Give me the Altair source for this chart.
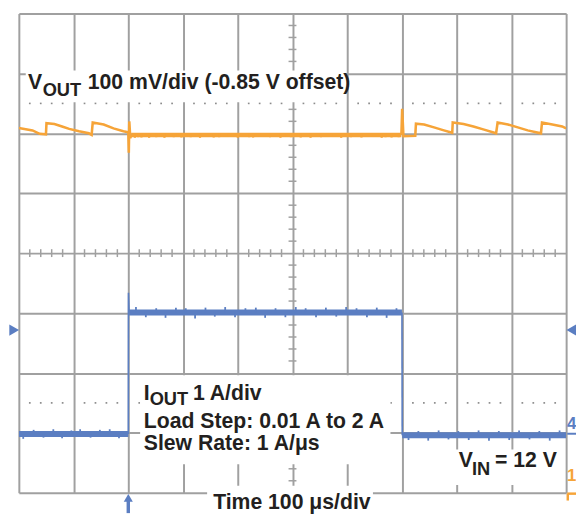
import altair as alt
import pandas as pd

# ---------------- values ----------------
# time axis: 100 us/div, 10 divisions (trigger at 200 us)
# VOUT: deviation in mV (100 mV/div); IOUT in A (1 A/div)
vout_t = [0, 25, 38, 49.5, 50.5, 65, 79, 92, 110, 128, 133, 135, 155, 173, 191, 200,
          200.9, 201.8, 203.6, 205.4]
vout_mv = [8.7, 4.9, -0.8, -1.6, 17, 15.6, 11.5, 7.4, 3.3, 0, -2.5, 18.1, 14.8, 8.2, 3.3, 1.6,
           -32.4, 19.8, -8, -2.5]
vout_flat_t = [205.4, 699]
vout_flat_mv = [-2.8, -2.8]
vout_rel_t = [699, 700.4, 702.7, 724.3, 725.6, 740.5, 758.6, 776.6, 791.9, 792.8, 812.6, 830.6,
              848.6, 872, 874.8, 893.7, 911.7, 929.7, 954, 955.9, 974.8, 992.8, 1000]
vout_rel_mv = [-2.5, 41, -4.9, -4, 16, 14.8, 9.9, 4.9, 0.8, 18.1, 15.6, 11.5,
               6.6, 0, 18.1, 14.8, 9.9, 4.9, 0, 18.1, 14.8, 11.5, 8.2]
# noise glitches on the flat VOUT section (time, extreme mV)
vout_glitch_t = [212, 218, 224, 231, 238, 251, 259, 266, 283, 290, 297, 314, 331, 349, 356, 366,
                 384, 400, 421, 428, 440, 459, 478, 486, 497, 515, 533, 552, 571, 589, 607,
                 626, 645, 663, 670, 681, 694]
vout_glitch_mv = [-7.5, -6.5, -7, -6, -7.5, -6.5, -5.5, -7.5, -6.5, -6, -7, -6.5, -7.5, -5.5, -7,
                  -6.5, -6, -7.5, -6.5, -7, -5.5, -6.5, -7.5, -6, -6.5, -7, -7.5, -6.5, -6, -7.5,
                  -6.5, -7, -6, -7.5, -6.5, -7, -6.5]

iout_low_t = [0, 200]
iout_low_a = [0.01, 0.01]
iout_edge1_t = [200, 200.3, 201.5]
iout_edge1_a = [0.01, 2.37, 2.04]
iout_high_t = [201.5, 700]
iout_high_a = [2.04, 2.04]
iout_edge2_t = [700, 700.5]
iout_edge2_a = [2.04, -0.01]
iout_end_t = [700.5, 1000]
iout_end_a = [-0.01, -0.01]
iout_glitch_t = [8, 27, 45, 63, 79, 96, 112, 131, 148, 166, 183,
                 214, 232, 251, 268, 287, 305, 322, 341, 358, 377, 395, 414, 433, 450, 469,
                 487, 506, 524, 543, 561, 580, 598, 617, 636, 654, 672, 690,
                 712, 730, 748, 767, 785, 803, 822, 840, 859, 877, 896, 914, 933, 951, 970, 988]
iout_glitch_a = [-0.08, 0.07, -0.06, 0.08, -0.07, 0.06, 0.08, -0.06, 0.07, 0.08, -0.07,
                 0.09, -0.08, 0.07, -0.09, 0.08, 0.07, -0.1, 0.08, -0.07, 0.09, -0.08, 0.07,
                 0.08, -0.09, 0.07, -0.08, 0.09, 0.07, -0.08, 0.08, -0.07, 0.09, 0.07, -0.08,
                 0.08, -0.09, 0.07,
                 -0.08, 0.07, -0.09, 0.08, -0.07, 0.07, -0.08, 0.08, -0.09, 0.07, -0.08,
                 0.08, -0.07, 0.07, -0.09, 0.08]

# screen-division offsets of the two channels
VOUT_ZERO_DIV = 6.0
IOUT_ZERO_DIV = 0.97

ORANGE = "#f6a438"
BLUE = "#5b7ec2"
GRID = "#a0a0a0"
INK = "#231f20"
FONT = "Liberation Sans"

# ---------------- tables ----------------
vglitch_df = pd.DataFrame({"t": vout_glitch_t, "mv": vout_glitch_mv})
iglitch_df = pd.DataFrame({"t": iout_glitch_t, "d": iout_glitch_a})
iglitch_df["base"] = [0.01 if t < 200 else (2.04 if t < 700 else -0.01) for t in iout_glitch_t]

major_t = list(range(0, 1001, 100))
major_y = list(range(0, 9))
minor_t = [t for t in range(20, 1000, 20) if t % 100 != 0]
minor_y = [round(v * 0.2, 2) for v in range(1, 40) if v % 5 != 0]
dots = pd.DataFrame([{"t": t, "y": yy} for yy in (1.5, 6.5) for t in minor_t])
hticks = pd.DataFrame({"t": minor_t, "y": [4.0] * len(minor_t)})
vticks = pd.DataFrame({"t": [500.0] * len(minor_y), "y": minor_y})

boxes = pd.DataFrame({
    "t": [12.6, 221.6, 780, 344],
    "t2": [598, 679, 996, 647],
    "y": [7.05, 1.96, 0.72, 0.115],
    "y2": [6.52, 0.477, 0.13, -0.35],
})

texts = pd.DataFrame([
    {"t": 16.8, "y": 6.74, "s": "V", "fs": 21.5, "c": INK},
    {"t": 43.5, "y": 6.63, "s": "OUT", "fs": 18.5, "c": INK},
    {"t": 126, "y": 6.74, "s": "100 mV/div (-0.85 V offset)", "fs": 21.5, "c": INK},
    {"t": 228.3, "y": 1.55, "s": "I", "fs": 21.5, "c": INK},
    {"t": 239, "y": 1.46, "s": "OUT", "fs": 18.5, "c": INK},
    {"t": 318, "y": 1.55, "s": "1 A/div", "fs": 21.5, "c": INK},
    {"t": 228.3, "y": 1.086, "s": "Load Step: 0.01 A to 2 A", "fs": 21.5, "c": INK},
    {"t": 228.3, "y": 0.708, "s": "Slew Rate: 1 A/\u03bcs", "fs": 21.5, "c": INK},
    {"t": 803.6, "y": 0.43, "s": "V", "fs": 21.5, "c": INK},
    {"t": 828, "y": 0.29, "s": "IN", "fs": 18.5, "c": INK},
    {"t": 870, "y": 0.43, "s": "= 12 V", "fs": 21.5, "c": INK},
    {"t": 355, "y": -0.263, "s": "Time 100 \u03bcs/div", "fs": 21.5, "c": INK},
    {"t": 1001.5, "y": 1.06, "s": "4", "fs": 17, "c": BLUE},
    {"t": 1001.5, "y": 0.19, "s": "1", "fs": 17, "c": ORANGE},
])

markers = pd.DataFrame([
    {"t": -8.5, "y": 2.716, "shape": "triangle-right", "c": BLUE},
    {"t": 1009.5, "y": 2.716, "shape": "triangle-left", "c": BLUE},
])
arrow_head = pd.DataFrame({"t": [200], "y": [-0.085]})
arrow_shaft = pd.DataFrame({"t": [200], "y": [-0.1], "y2": [-0.34]})
blue_stub = pd.DataFrame({"t": [1002], "t2": [1020], "y": [0.985]})
orange_stub_h = pd.DataFrame({"t": [1002], "t2": [1020], "y": [-0.015]})
orange_stub_v = pd.DataFrame({"t": [1003], "y": [-0.015], "y2": [-0.13]})

# ---------------- encodings ----------------
XS = alt.Scale(domain=[0, 1000], nice=False, zero=False)
YS = alt.Scale(domain=[0, 8], nice=False, zero=False)


def X(field="t"):
    return alt.X(f"{field}:Q", scale=XS, axis=alt.Axis(values=major_t, title=None))


def Y(field="y"):
    return alt.Y(f"{field}:Q", scale=YS, axis=alt.Axis(values=major_y, title=None))


def vline(ts, vs, width):
    df = pd.DataFrame({"t": ts, "mv": vs})
    return alt.Chart(df).transform_calculate(
        y=f"{VOUT_ZERO_DIV} + datum.mv / 100"
    ).mark_line(color=ORANGE, strokeWidth=width, clip=True).encode(x=X(), y=Y(), order="t:Q")


def iline(ts, vs, width):
    df = pd.DataFrame({"t": ts, "a": vs, "k": range(len(ts))})
    return alt.Chart(df).transform_calculate(
        y=f"{IOUT_ZERO_DIV} + datum.a"
    ).mark_line(color=BLUE, strokeWidth=width, clip=True).encode(x=X(), y=Y(), order="k:Q")


dot_layer = alt.Chart(dots).mark_square(size=3, color="#8c8c8c", opacity=1).encode(x=X(), y=Y())
htick_layer = alt.Chart(hticks).mark_tick(orient="vertical", size=8, thickness=1.5,
                                          color=GRID, opacity=1).encode(x=X(), y=Y())
vtick_layer = alt.Chart(vticks).mark_tick(orient="horizontal", size=8, thickness=1.5,
                                          color=GRID, opacity=1).encode(x=X(), y=Y())

box_layer = alt.Chart(boxes).mark_rect(color="white").encode(
    x=X(), x2="t2:Q", y=Y(), y2="y2:Q")

vglitch_layer = alt.Chart(vglitch_df).transform_calculate(
    y=f"{VOUT_ZERO_DIV} - 0.01", y2=f"{VOUT_ZERO_DIV} + datum.mv / 100"
).mark_rule(color=ORANGE, strokeWidth=2.2).encode(x=X(), y=Y(), y2="y2:Q")

iglitch_layer = alt.Chart(iglitch_df).transform_calculate(
    y=f"{IOUT_ZERO_DIV} + datum.base", y2=f"{IOUT_ZERO_DIV} + datum.base + datum.d"
).mark_rule(color=BLUE, strokeWidth=1.8).encode(x=X(), y=Y(), y2="y2:Q")

marker_layer = alt.Chart(markers).mark_point(filled=True, opacity=1, size=130).encode(
    x=X(), y=Y(), shape=alt.Shape("shape:N", scale=None),
    color=alt.Color("c:N", scale=None))

arrow_head_layer = alt.Chart(arrow_head).mark_point(
    shape="triangle-up", filled=True, opacity=1, size=85, color=BLUE).encode(x=X(), y=Y())
arrow_shaft_layer = alt.Chart(arrow_shaft).mark_rule(color=BLUE, strokeWidth=3.5).encode(
    x=X(), y=Y(), y2="y2:Q")
blue_stub_layer = alt.Chart(blue_stub).mark_rule(color=BLUE, strokeWidth=2).encode(
    x=X(), x2="t2:Q", y=Y())
orange_stub_h_layer = alt.Chart(orange_stub_h).mark_rule(color=ORANGE, strokeWidth=2.5).encode(
    x=X(), x2="t2:Q", y=Y())
orange_stub_v_layer = alt.Chart(orange_stub_v).mark_rule(color=ORANGE, strokeWidth=2.5).encode(
    x=X(), y=Y(), y2="y2:Q")

text_layer = alt.Chart(texts).mark_text(
    align="left", baseline="alphabetic", font=FONT, fontWeight="bold"
).encode(x=X(), y=Y(), text="s:N",
         size=alt.Size("fs:Q", scale=None), color=alt.Color("c:N", scale=None))

chart = alt.layer(
    dot_layer, htick_layer, vtick_layer, box_layer,
    vline(vout_t, vout_mv, 2.6),
    vline(vout_flat_t, vout_flat_mv, 4.5),
    vline(vout_rel_t, vout_rel_mv, 2.6),
    vglitch_layer,
    iline(iout_low_t, iout_low_a, 6),
    iline(iout_edge1_t, iout_edge1_a, 1.6),
    iline(iout_high_t, iout_high_a, 6),
    iline(iout_edge2_t, iout_edge2_a, 1.6),
    iline(iout_end_t, iout_end_a, 6),
    iglitch_layer,
    marker_layer, arrow_head_layer, arrow_shaft_layer,
    blue_stub_layer, orange_stub_h_layer, orange_stub_v_layer,
    text_layer,
).properties(
    width=555, height=486,
    autosize=alt.AutoSizeParams(type="none"),
    padding={"left": 11, "top": 2, "right": 10, "bottom": 20},
    background="white",
).configure_axis(
    grid=True, gridColor=GRID, gridWidth=2, gridOpacity=1,
    labels=False, ticks=False, domain=False,
).configure_view(stroke=None)

chart.save("out.html", embed_options={"renderer": "svg", "actions": False})
